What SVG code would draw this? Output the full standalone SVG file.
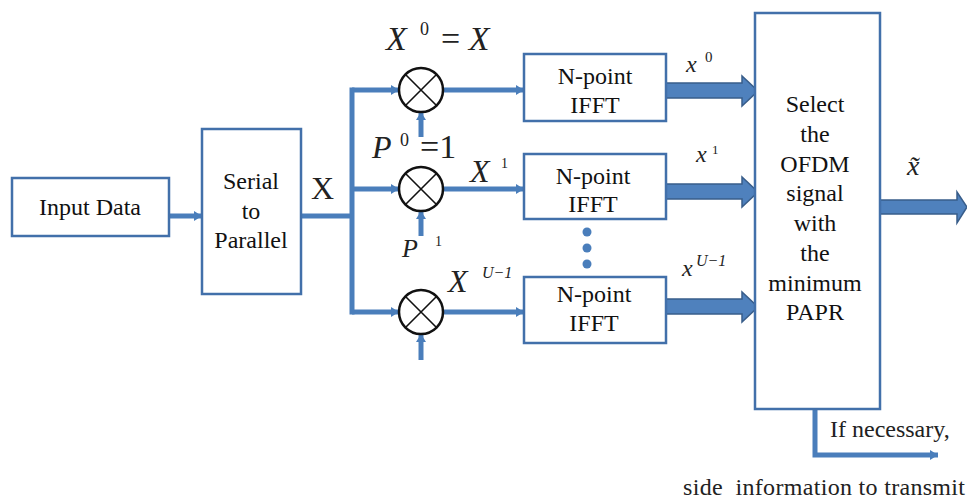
<svg xmlns="http://www.w3.org/2000/svg" width="967" height="499" viewBox="0 0 967 499">
<style>
.box{fill:#fff;stroke:#4270AA;stroke-width:2.5}
.t{font-family:'Liberation Serif','DejaVu Serif','Noto Serif',Tinos,FreeSerif,Georgia,serif;font-size:24px;fill:#111;text-anchor:middle}
.m{font-family:'Liberation Serif','DejaVu Serif','Noto Serif',Tinos,FreeSerif,Georgia,serif;font-style:italic;fill:#222}
.r{font-family:'Liberation Serif','DejaVu Serif','Noto Serif',Tinos,FreeSerif,Georgia,serif;fill:#222}
.ln{stroke:#4A7EBB;stroke-width:5;fill:none}
.blk{fill:#4F81BD;stroke:#385D8A;stroke-width:1.5}
.mul{fill:#fff;stroke:#111;stroke-width:2.5}
.x{stroke:#111;stroke-width:1.6}
</style>
<defs>
<marker id="ah" markerUnits="userSpaceOnUse" markerWidth="10" markerHeight="12" refX="8" refY="6" orient="auto">
<path d="M0,1 L8,6 L0,11 Z" fill="#4A7EBB"/>
</marker>
</defs>
<g id="connectors">
<line class="ln" x1="169" y1="216" x2="202" y2="216" marker-end="url(#ah)"/>
<line class="ln" x1="301" y1="216" x2="352" y2="216"/>
<line class="ln" x1="352" y1="87.5" x2="352" y2="314.5" stroke-width="6"/>
<line class="ln" x1="352" y1="90" x2="399" y2="90" marker-end="url(#ah)"/>
<line class="ln" x1="352" y1="189" x2="399" y2="189" marker-end="url(#ah)"/>
<line class="ln" x1="352" y1="312" x2="399" y2="312" marker-end="url(#ah)"/>
<line class="ln" x1="421" y1="137" x2="421" y2="112" marker-end="url(#ah)"/>
<line class="ln" x1="421" y1="236" x2="421" y2="211" marker-end="url(#ah)"/>
<line class="ln" x1="421" y1="360" x2="421" y2="334" marker-end="url(#ah)"/>
<line class="ln" x1="443" y1="90" x2="524" y2="90" marker-end="url(#ah)"/>
<line class="ln" x1="443" y1="189" x2="524" y2="189" marker-end="url(#ah)"/>
<line class="ln" x1="443" y1="312" x2="524" y2="312" marker-end="url(#ah)"/>
<path class="blk" d="M666,83 L742,83 L742,76 L758,91 L742,106 L742,98 L666,98 Z"/>
<path class="blk" d="M666,184 L742,184 L742,177 L758,192 L742,207 L742,199 L666,199 Z"/>
<path class="blk" d="M666,299 L742,299 L742,292 L758,307 L742,322 L742,314 L666,314 Z"/>
<path class="blk" d="M880,200 L957,200 L957,192 L967,207 L957,223 L957,214 L880,214 Z"/>
<polyline class="ln" points="815,409 815,455 938,455" marker-end="url(#ah)"/>
</g>
<g id="input">
<rect class="box" x="12" y="178" width="157" height="58"/>
<text class="t" x="90" y="215">Input Data</text>
</g>
<g id="s2p">
<rect class="box" x="202" y="129" width="99" height="165"/>
<text class="t" x="251" y="189">Serial</text>
<text class="t" x="251" y="219">to</text>
<text class="t" x="251" y="248">Parallel</text>
</g>
<g id="mul0">
<circle class="mul" cx="421" cy="90" r="22"/>
<path class="x" d="M405.5,74.5 L436.5,105.5 M436.5,74.5 L405.5,105.5"/>
</g>
<g id="mul1">
<circle class="mul" cx="421" cy="189" r="22"/>
<path class="x" d="M405.5,173.5 L436.5,204.5 M436.5,173.5 L405.5,204.5"/>
</g>
<g id="mul2">
<circle class="mul" cx="421" cy="312" r="22"/>
<path class="x" d="M405.5,296.5 L436.5,327.5 M436.5,296.5 L405.5,327.5"/>
</g>
<g id="ifft0">
<rect class="box" x="524" y="54" width="142" height="67"/>
<text class="t" x="595" y="84">N-point</text>
<text class="t" x="595" y="113">IFFT</text>
</g>
<g id="ifft1">
<rect class="box" x="524" y="154" width="142" height="65"/>
<text class="t" x="593" y="184">N-point</text>
<text class="t" x="593" y="212">IFFT</text>
</g>
<g id="dots" fill="#4A7EBB">
<circle cx="587" cy="232" r="4.5"/>
<circle cx="587" cy="248" r="4.5"/>
<circle cx="587" cy="264" r="4.5"/>
</g>
<g id="ifft2">
<rect class="box" x="524" y="277" width="142" height="66"/>
<text class="t" x="594" y="302">N-point</text>
<text class="t" x="594" y="331">IFFT</text>
</g>
<g id="select">
<rect class="box" x="755" y="13" width="125" height="396"/>
<text class="t" x="815" y="112">Select</text>
<text class="t" x="815" y="142">the</text>
<text class="t" x="815" y="172">OFDM</text>
<text class="t" x="815" y="201">signal</text>
<text class="t" x="815" y="231">with</text>
<text class="t" x="815" y="261">the</text>
<text class="t" x="815" y="291">minimum</text>
<text class="t" x="815" y="320">PAPR</text>
</g>
<g id="labels">
<text class="r" x="311" y="199" font-size="32">X</text>
<text class="m" x="386" y="50" font-size="34">X</text>
<text class="r" x="420" y="35" font-size="18">0</text>
<text class="r" x="441" y="50" font-size="34">= <tspan class="m">X</tspan></text>
<text class="m" x="372" y="158" font-size="32">P</text>
<text class="r" x="400" y="146" font-size="18">0</text>
<text class="r" x="420" y="158" font-size="34">=1</text>
<text class="m" x="470" y="182" font-size="32">X</text>
<text class="r" x="501" y="168" font-size="14">1</text>
<text class="m" x="402" y="257" font-size="26">P</text>
<text class="r" x="435" y="246" font-size="14">1</text>
<text class="m" x="448" y="292" font-size="32">X</text>
<text class="m" x="482" y="278" font-size="16">U<tspan class="r">−1</tspan></text>
<text class="m" x="686" y="72" font-size="24">x</text>
<text class="r" x="705" y="62" font-size="15">0</text>
<text class="m" x="696" y="162" font-size="24">x</text>
<text class="r" x="712" y="154" font-size="13">1</text>
<text class="m" x="682" y="276" font-size="24">x</text>
<text class="m" x="696" y="266" font-size="16">U<tspan class="r">−1</tspan></text>
<text class="m" x="907" y="175" font-size="28">x̃</text>
<text class="r" x="830" y="437" font-size="24">If necessary,</text>
<text class="r" x="683" y="495" font-size="24" textLength="282" xml:space="preserve">side  information to transmit</text>
</g>
</svg>
